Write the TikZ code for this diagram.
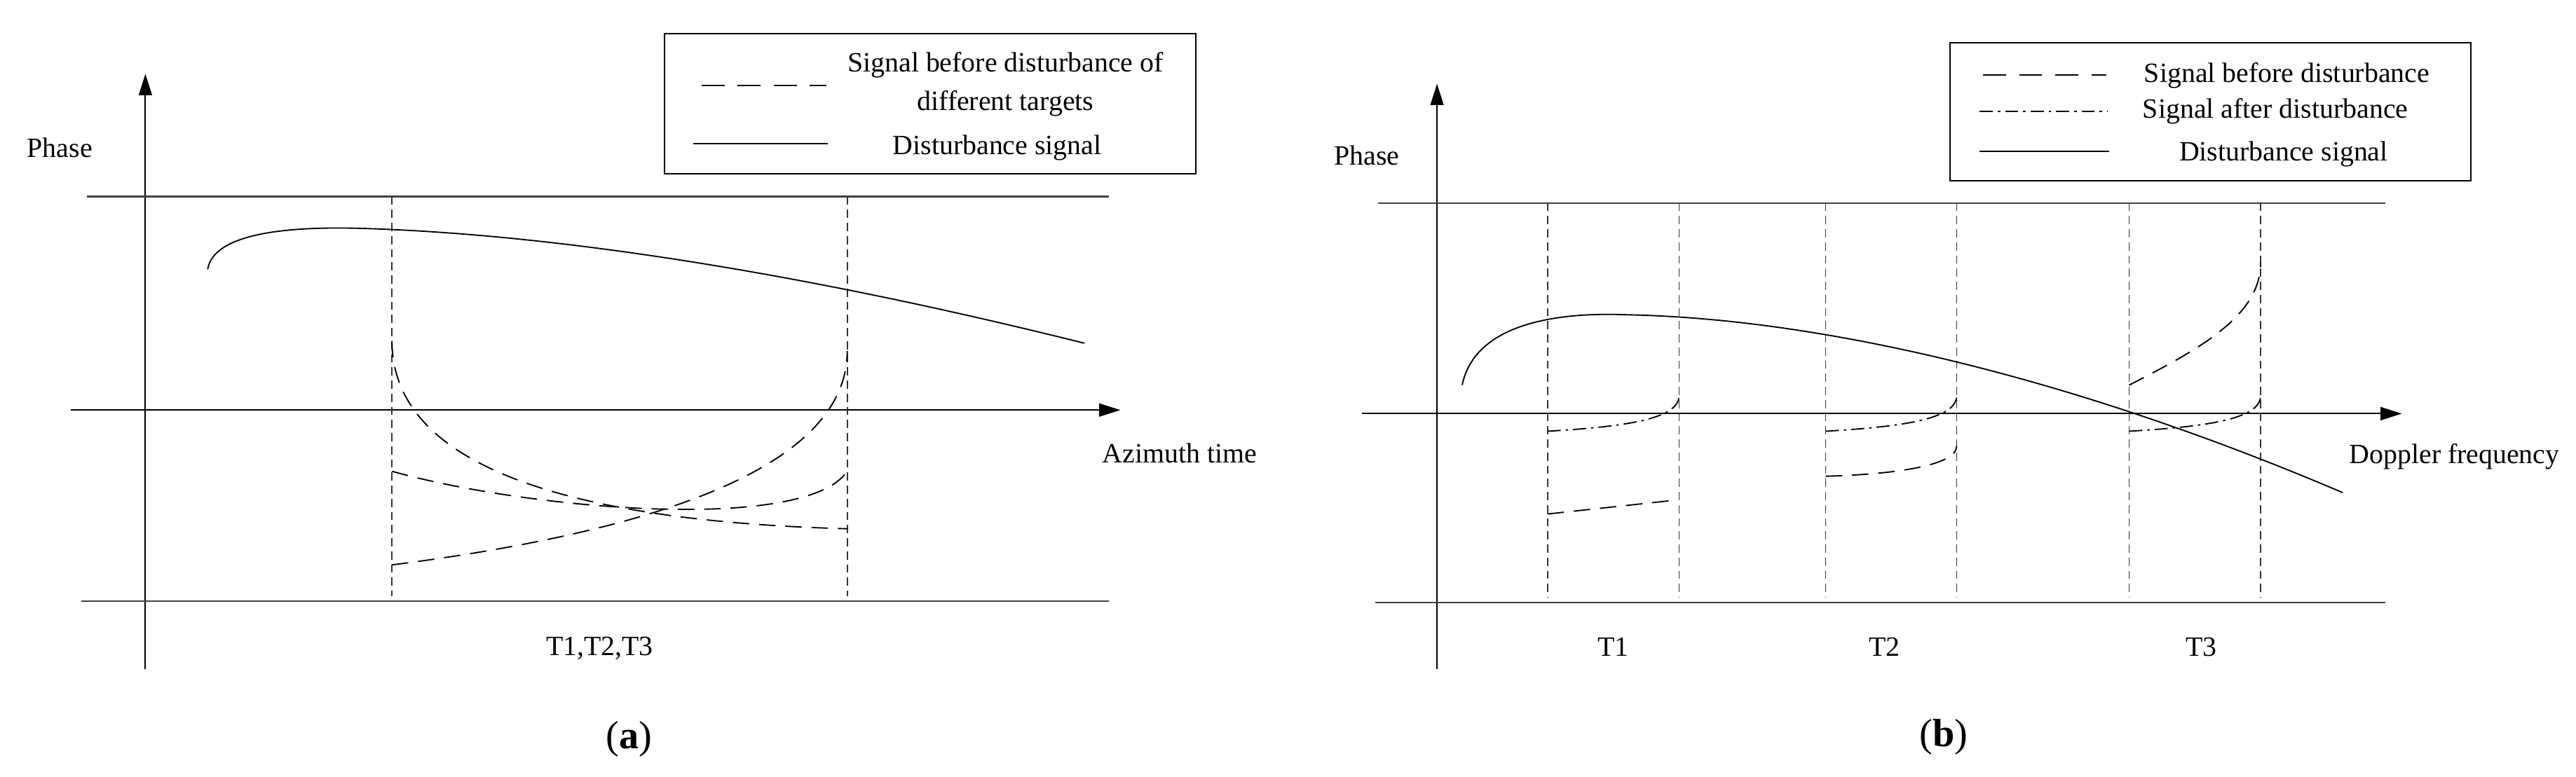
\documentclass[tikz,border=0pt]{standalone}
\usepackage{fontspec}
\setmainfont{Liberation Serif}
\usetikzlibrary{arrows.meta}
\begin{document}
\begin{tikzpicture}[x=1pt,y=-1pt,
  ax/.style={line width=0.9pt,-{Triangle[length=13pt,width=8pt]}},
  hl/.style={line width=0.9pt,black!75},
  vl/.style={line width=0.7pt,black!80,dash pattern=on 5pt off 3pt},
  sig/.style={line width=0.8pt},
  dsh/.style={line width=0.8pt,dash pattern=on 10pt off 6pt},
  dd/.style={line width=0.8pt,dash pattern=on 8pt off 3pt on 1.5pt off 3pt},
  lbl/.style={font=\fontsize{17}{20}\selectfont,inner sep=0pt},
  captxt/.style={font=\fontsize{24}{28}\selectfont,inner sep=0pt}]
\useasboundingbox (0,0) rectangle (1568,473);
% ---------- panel a
\coordinate (ay0) at (88.5,407.6); \coordinate (ay1) at (88.5,45);
\coordinate (ax0) at (43,249.7); \coordinate (ax1) at (682,249.7);
\draw[ax] (ay0) -- (ay1);
\draw[ax] (ax0) -- (ax1);
\coordinate (at0) at (53,119.7); \coordinate (at1) at (675,119.7);
\coordinate (ab0) at (49.5,366); \coordinate (ab1) at (675,366);
\draw[hl] (at0) -- (at1); \draw[hl] (ab0) -- (ab1);
\foreach \x in {238.6,515.7} \draw[vl] (\x,119.7) -- (\x,363);
\draw[sig] (126.4,164) .. controls (130,142) and (175,138) .. (217,139) .. controls (330,142) and (480,164) .. (660,209);
\draw[dsh] (238.6,207.6) .. controls (238.6,292) and (370,318) .. (515.7,322);
\draw[dsh] (238.6,344) .. controls (380,326) and (515.7,290) .. (515.7,213.7);
\draw[dsh] (238.6,287) .. controls (320,310) and (490,325) .. (515.7,287);
\node[lbl] (aph) at (36.4,90) {Phase};
\node[lbl] (aaz) at (718,276) {Azimuth time};
\node[lbl] (at) at (365,395) {T1,T2,T3};
\node[captxt] (acap) at (383,450) {(\textbf{a})};
\node[draw,line width=0.9pt,minimum width=323.5pt,minimum height=85.5pt,inner sep=0pt] (aleg) at (566.25,63.25) {};
\draw[dsh,dash pattern=on 14pt off 8pt] (427,52) -- (503,52);
\node[lbl] (al1) at (612,39.7) {Signal before disturbance of};
\node[lbl] (al2) at (612,63.2) {different targets};
\draw[sig] (422,87.6) -- (504,87.6);
\node[lbl] (al3) at (607,90) {Disturbance signal};
% ---------- panel b
\coordinate (by0) at (874.7,407.6); \coordinate (by1) at (874.7,51);
\coordinate (bx0) at (829,251.9); \coordinate (bx1) at (1462,251.9);
\draw[ax] (by0) -- (by1);
\draw[ax] (bx0) -- (bx1);
\coordinate (bt0) at (839,123.6); \coordinate (bt1) at (1452,123.6);
\coordinate (bb0) at (837,367); \coordinate (bb1) at (1452,367);
\draw[hl] (bt0) -- (bt1); \draw[hl] (bb0) -- (bb1);
\foreach \x in {942,1022,1111.3,1191,1296,1376} \draw[vl] (\x,123.6) -- (\x,364);
\draw[sig] (890,234.5) .. controls (898,196) and (950,190) .. (991,191.7) .. controls (1100,194) and (1250,225) .. (1426,300);
\draw[dd] (942,262.6) .. controls (985,260) and (1022,256) .. (1022,241);
\draw[dd] (1111.3,262.6) .. controls (1154,260) and (1191,256) .. (1191,241);
\draw[dd] (1296,262.6) .. controls (1339,260) and (1376,256) .. (1376,241);
\draw[dsh] (942,313) -- (1016,305);
\draw[dsh] (1111.3,290) .. controls (1150,289) and (1191,284) .. (1191,271.7);
\draw[dsh] (1296,234.5) .. controls (1340,212) and (1376,192) .. (1376,160);
\node[lbl] (bph) at (832,94.6) {Phase};
\node[lbl] (bdf) at (1494,278) {Doppler frequency};
\node[lbl] (bt1n) at (982,394) {T1};
\node[lbl] (bt2n) at (1147,394) {T2};
\node[lbl] (bt3n) at (1340,394) {T3};
\node[captxt] (bcap) at (1183,449) {(\textbf{b})};
\node[draw,line width=0.9pt,minimum width=317pt,minimum height=84pt,inner sep=0pt] (bleg) at (1345.5,68) {};
\draw[dsh,dash pattern=on 14pt off 8pt] (1207,45.8) -- (1282,45.8);
\node[lbl] (bl1) at (1392,45.8) {Signal before disturbance};
\draw[dd] (1205,67.8) -- (1283,67.8);
\node[lbl] (bl2) at (1385,67.8) {Signal after disturbance};
\draw[sig] (1205,92) -- (1284,92);
\node[lbl] (bl3) at (1390,94) {Disturbance signal};
\end{tikzpicture}
\end{document}
